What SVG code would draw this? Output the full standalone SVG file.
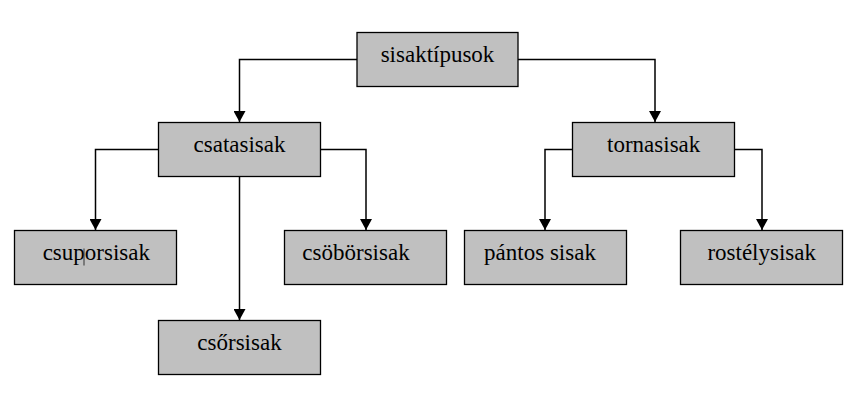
<svg xmlns="http://www.w3.org/2000/svg" width="857" height="407" viewBox="0 0 857 407">
<style>
.box{fill:#c0c0c0;stroke:#000;stroke-width:1.3}
.lbl{font-family:"Liberation Serif",Tinos,"Times New Roman",Times,"DejaVu Serif","Noto Serif",serif;font-size:23px;fill:#000;text-anchor:middle}
.conn{fill:none;stroke:#000;stroke-width:1.5}
</style>
<defs>
<marker id="arr" markerUnits="userSpaceOnUse" markerWidth="12" markerHeight="12" viewBox="0 0 12 12" refX="11" refY="6" orient="auto">
<path d="M0,0 L11,6 L0,12 Z" fill="#000"/>
</marker>
</defs>
<rect width="857" height="407" fill="#fff"/>
<g id="connectors">
<path class="conn" d="M357,59.5 H239.5 V122" marker-end="url(#arr)"/>
<path class="conn" d="M518,59.5 H655 V122" marker-end="url(#arr)"/>
<path class="conn" d="M158,149.5 H95.5 V230" marker-end="url(#arr)"/>
<path class="conn" d="M321,149.5 H366 V230" marker-end="url(#arr)"/>
<path class="conn" d="M239.5,176 V320" marker-end="url(#arr)"/>
<path class="conn" d="M572,149.5 H545 V230" marker-end="url(#arr)"/>
<path class="conn" d="M735,149.5 H762 V230" marker-end="url(#arr)"/>
</g>
<g id="sisaktipusok">
<rect class="box" x="357" y="32.5" width="161" height="54"/>
<text class="lbl" x="437.5" y="62">sisaktípusok</text>
</g>
<g id="csatasisak">
<rect class="box" x="158.5" y="122.5" width="162" height="54"/>
<text class="lbl" x="239.5" y="152">csatasisak</text>
</g>
<g id="tornasisak">
<rect class="box" x="572.5" y="122.5" width="162" height="54"/>
<text class="lbl" x="653.7" y="152">tornasisak</text>
</g>
<g id="csuporsisak">
<rect class="box" x="14.5" y="230.5" width="162" height="54"/>
<text class="lbl" x="96.3" y="260">csuporsisak</text>
<line x1="84" y1="248.5" x2="84" y2="265.5" stroke="#333" stroke-width="1"/>
</g>
<g id="csoborsisak">
<rect class="box" x="284.5" y="230.5" width="162" height="54"/>
<text class="lbl" x="356" y="260">csöbörsisak</text>
</g>
<g id="csorsisak">
<rect class="box" x="158.5" y="320.5" width="162" height="54"/>
<text class="lbl" x="239.5" y="350">csőrsisak</text>
</g>
<g id="pantos">
<rect class="box" x="464.5" y="230.5" width="162" height="54"/>
<text class="lbl" x="540" y="260">pántos sisak</text>
</g>
<g id="rostelysisak">
<rect class="box" x="680.5" y="230.5" width="162" height="54"/>
<text class="lbl" x="761.7" y="260">rostélysisak</text>
</g>
</svg>
